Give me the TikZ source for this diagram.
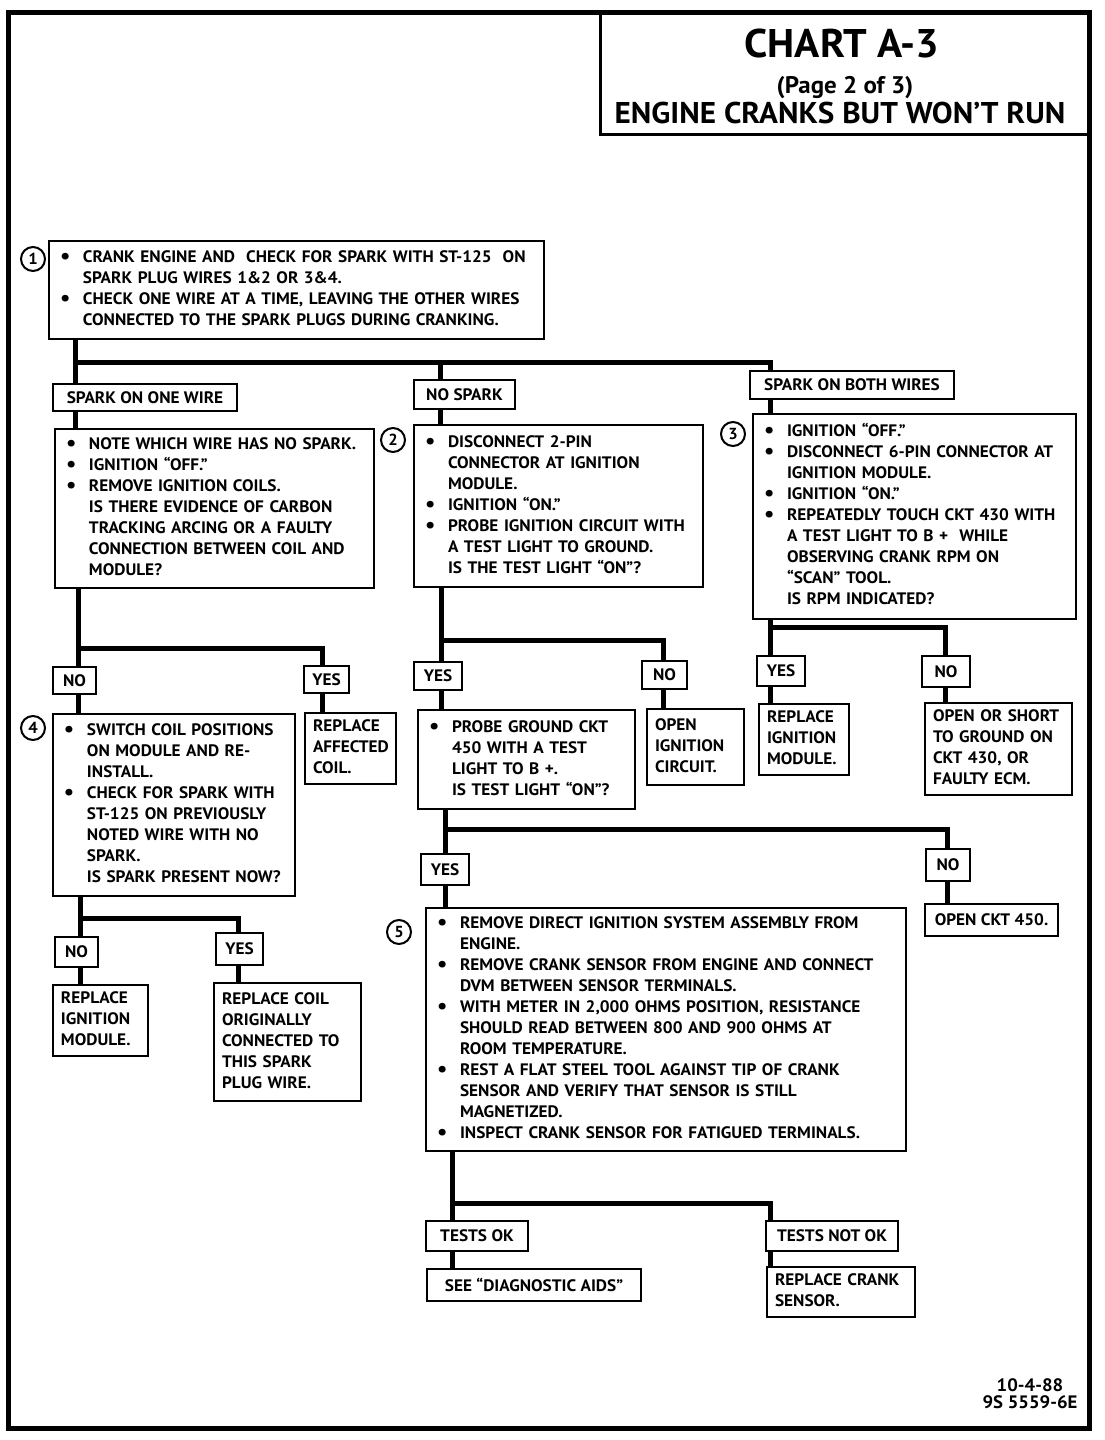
\documentclass[tikz,border=0pt]{standalone}
\usepackage{fontspec}
\setmainfont{PT Sans}[FakeStretch=1.04]
\newcommand{\bl}{\makebox[13pt][l]{\hspace{1.5pt}\raisebox{-0.5pt}{\fontsize{11}{10}\selectfont\textbullet}}}
\newcommand{\ind}{\hspace*{13pt}}
\newcommand{\tb}[1]{\begin{tabular}{@{}l@{}}#1\end{tabular}}

\begin{document}
\begin{tikzpicture}[x=0.5pt,y=-0.5pt,
    every node/.style={font=\bfseries\fontsize{8.3}{10.5}\selectfont},
    box/.style={draw,line width=1pt,anchor=north west,inner xsep=4pt,inner ysep=2pt,align=left},
    tag/.style={draw,line width=1pt,anchor=north west,inner sep=0pt},
    num/.style={circle,draw,line width=1pt,minimum size=12pt,inner sep=0pt,font=\bfseries\fontsize{8}{8}\selectfont},
    wire/.style={line width=2.5pt,line join=miter}]
  \useasboundingbox (0,0) rectangle (1104,1440);
  % frame and title
  \draw[line width=2.5pt] (8,12) rectangle (1089,1428);
  \draw[line width=1.5pt] (600,12) |- (1089,134);
  \node[font=\bfseries\fontsize{20}{22}\selectfont] (chart) at (842,43) {CHART A-3};
  \node[font=\bfseries\fontsize{12}{14}\selectfont] (page) at (845,88) {(Page 2 of 3)};
  \node[font=\bfseries\fontsize{15}{17}\selectfont] (title) at (840,113) {ENGINE CRANKS BUT WON’T RUN};

  % step 1
  \node[num] (num1) at (33,259) {1};
  \node[box,text width=239.5pt,minimum height=49pt] (step1) at (48,240) {\tb{%
    \bl CRANK ENGINE AND \ CHECK FOR SPARK WITH ST-125 \ ON\\
    \ind SPARK PLUG WIRES 1\&2 OR 3\&4.\\
    \bl CHECK ONE WIRE AT A TIME, LEAVING THE OTHER WIRES\\
    \ind CONNECTED TO THE SPARK PLUGS DURING CRANKING.}};

  \node[tag,minimum width=92pt,minimum height=13.5pt] (spkone) at (52,383) {SPARK ON ONE WIRE};
  \node[tag,minimum width=50.5pt,minimum height=14.5pt] (nospk) at (413,379) {NO SPARK};
  \node[tag,minimum width=102pt,minimum height=14pt] (spkboth) at (749,370) {SPARK ON BOTH WIRES};

  \node[box,text width=151.5pt,minimum height=79.5pt] (coils) at (54,428) {\tb{%
    \bl NOTE WHICH WIRE HAS NO SPARK.\\
    \bl IGNITION “OFF.”\\
    \bl REMOVE IGNITION COILS.\\
    \ind IS THERE EVIDENCE OF CARBON\\
    \ind TRACKING ARCING OR A FAULTY\\
    \ind CONNECTION BETWEEN COIL AND\\
    \ind MODULE?}};

  % step 2
  \node[num] (num2) at (393,440) {2};
  \node[box,text width=136.5pt,minimum height=81pt] (step2) at (413,424) {\tb{%
    \bl DISCONNECT 2-PIN\\
    \ind CONNECTOR AT IGNITION\\
    \ind MODULE.\\
    \bl IGNITION “ON.”\\
    \bl PROBE IGNITION CIRCUIT WITH\\
    \ind A TEST LIGHT TO GROUND.\\
    \ind IS THE TEST LIGHT “ON”?}};

  % step 3
  \node[num] (num3) at (733,434) {3};
  \node[box,text width=153.5pt,minimum height=102.5pt] (step3) at (752,413) {\tb{%
    \bl IGNITION “OFF.”\\
    \bl DISCONNECT 6-PIN CONNECTOR AT\\
    \ind IGNITION MODULE.\\
    \bl IGNITION “ON.”\\
    \bl REPEATEDLY TOUCH CKT 430 WITH\\
    \ind A TEST LIGHT TO B + \ WHILE\\
    \ind OBSERVING CRANK RPM ON\\
    \ind “SCAN” TOOL.\\
    \ind IS RPM INDICATED?}};

  \node[tag,minimum width=21.5pt,minimum height=13.5pt] (noA) at (52,666) {NO};
  \node[tag,minimum width=22.5pt,minimum height=13.5pt] (yesA) at (303,665) {YES};
  \node[tag,minimum width=24pt,minimum height=14pt] (yesB) at (413,661) {YES};
  \node[tag,minimum width=22.5pt,minimum height=14pt] (noB) at (641,660) {NO};
  \node[tag,minimum width=24pt,minimum height=15pt] (yesC) at (756,655) {YES};
  \node[tag,minimum width=24pt,minimum height=15.5pt] (noC) at (921,655) {NO};

  % step 4
  \node[num] (num4) at (33,728) {4};
  \node[box,text width=113pt,minimum height=91pt] (step4) at (52,713) {\tb{%
    \bl SWITCH COIL POSITIONS\\
    \ind ON MODULE AND RE-\\
    \ind INSTALL.\\
    \bl CHECK FOR SPARK WITH\\
    \ind ST-125 ON PREVIOUSLY\\
    \ind NOTED WIRE WITH NO\\
    \ind SPARK.\\
    \ind IS SPARK PRESENT NOW?}};
  \node[box,text width=37.5pt,minimum height=35pt] (repcoil) at (304,712) {\tb{REPLACE\\AFFECTED\\COIL.}};
  \node[box,text width=100.5pt,minimum height=49.5pt] (gndckt) at (417,709) {\tb{%
    \bl PROBE GROUND CKT\\
    \ind 450 WITH A TEST\\
    \ind LIGHT TO B +.\\
    \ind IS TEST LIGHT “ON”?}};
  \node[box,text width=40.5pt,minimum height=38pt] (openign) at (646,708) {\tb{OPEN\\IGNITION\\CIRCUIT.}};
  \node[box,text width=37pt,minimum height=35pt] (repmodA) at (758,703) {\tb{REPLACE\\IGNITION\\MODULE.}};
  \node[box,text width=65.5pt,minimum height=45pt] (openshort) at (924,702) {\tb{OPEN OR SHORT\\TO GROUND ON\\CKT 430, OR\\FAULTY ECM.}};

  \node[tag,minimum width=24pt,minimum height=15.5pt] (yesD) at (420,853) {YES};
  \node[tag,minimum width=22pt,minimum height=16pt] (noD) at (925,848) {NO};
  \node[tag,minimum width=66.5pt,minimum height=16pt] (open450) at (924,903) {OPEN CKT 450.};

  % step 5
  \node[num] (num5) at (399,932) {5};
  \node[box,text width=232pt,minimum height=121.5pt] (step5) at (425,907) {\tb{%
    \bl REMOVE DIRECT IGNITION SYSTEM ASSEMBLY FROM\\
    \ind ENGINE.\\
    \bl REMOVE CRANK SENSOR FROM ENGINE AND CONNECT\\
    \ind DVM BETWEEN SENSOR TERMINALS.\\
    \bl WITH METER IN 2,000 OHMS POSITION, RESISTANCE\\
    \ind SHOULD READ BETWEEN 800 AND 900 OHMS AT\\
    \ind ROOM TEMPERATURE.\\
    \bl REST A FLAT STEEL TOOL AGAINST TIP OF CRANK\\
    \ind SENSOR AND VERIFY THAT SENSOR IS STILL\\
    \ind MAGNETIZED.\\
    \bl INSPECT CRANK SENSOR FOR FATIGUED TERMINALS.}};

  \node[tag,minimum width=21.5pt,minimum height=15pt] (noE) at (54,936) {NO};
  \node[tag,minimum width=23.5pt,minimum height=16pt] (yesE) at (215,932) {YES};
  \node[box,text width=39.5pt,minimum height=34.5pt] (repmodB) at (52,984) {\tb{REPLACE\\IGNITION\\MODULE.}};
  \node[box,text width=65.5pt,minimum height=59pt] (repcoilB) at (213,982) {\tb{REPLACE COIL\\ORIGINALLY\\CONNECTED TO\\THIS SPARK\\PLUG WIRE.}};

  \node[tag,minimum width=51pt,minimum height=15pt] (testok) at (425,1220) {TESTS OK};
  \node[tag,minimum width=66pt,minimum height=15pt] (testnok) at (765,1220) {TESTS NOT OK};
  \node[tag,minimum width=107pt,minimum height=16pt] (diag) at (426,1268) {SEE “DIAGNOSTIC AIDS”};
  \node[box,text width=66pt,minimum height=25pt] (repsensor) at (766,1266) {\tb{REPLACE CRANK\\SENSOR.}};

  \node[align=center,font=\bfseries\fontsize{9}{8.5}\selectfont] (date) at (1030,1394) {10-4-88\\9S 5559-6E};

  % branch points
  \coordinate (j1a) at (75,362);  \coordinate (j1b) at (440,362);  \coordinate (j1c) at (770,362);
  \coordinate (j2a) at (78,648);  \coordinate (j2b) at (322,648);
  \coordinate (j3a) at (441,640); \coordinate (j3b) at (663,640);
  \coordinate (j4a) at (770,627); \coordinate (j4b) at (945,627);
  \coordinate (j5a) at (445,829); \coordinate (j5b) at (947,829);
  \coordinate (j6a) at (80,918);  \coordinate (j6b) at (238,918);
  \coordinate (j7a) at (452,1203); \coordinate (j7b) at (770,1203);

  % connectors
  \draw[wire] (step1.south -| j1a) -- (spkone.north -| j1a);
  \draw[wire] (j1a) -- (j1c) -- (spkboth.north -| j1c);
  \draw[wire] (j1b) -- (nospk.north -| j1b);
  \draw[wire] (spkone.south -| j1a) -- (coils.north -| j1a);
  \draw[wire] (nospk.south -| j1b) -- (step2.north -| j1b);
  \draw[wire] (spkboth.south -| j1c) -- (step3.north -| j1c);
  %
  \draw[wire] (coils.south -| j2a) -- (noA.north -| j2a);
  \draw[wire] (j2a) -- (j2b) -- (yesA.north -| j2b);
  \draw[wire] (noA.south -| j2a) -- (step4.north -| j2a);
  \draw[wire] (yesA.south -| j2b) -- (repcoil.north -| j2b);
  %
  \draw[wire] (step2.south -| j3a) -- (yesB.north -| j3a);
  \draw[wire] (j3a) -- (j3b) -- (noB.north -| j3b);
  \draw[wire] (yesB.south -| j3a) -- (gndckt.north -| j3a);
  \draw[wire] (noB.south -| j3b) -- (openign.north -| j3b);
  %
  \draw[wire] (step3.south -| j4a) -- (yesC.north -| j4a);
  \draw[wire] (j4a) -- (j4b) -- (noC.north -| j4b);
  \draw[wire] (yesC.south -| j4a) -- (repmodA.north -| j4a);
  \draw[wire] (noC.south -| j4b) -- (openshort.north -| j4b);
  %
  \draw[wire] (gndckt.south -| j5a) -- (yesD.north -| j5a);
  \draw[wire] (j5a) -- (j5b) -- (noD.north -| j5b);
  \draw[wire] (yesD.south -| j5a) -- (step5.north -| j5a);
  \draw[wire] (noD.south -| j5b) -- (open450.north -| j5b);
  %
  \draw[wire] (step4.south -| j6a) -- (noE.north -| j6a);
  \draw[wire] (j6a) -- (j6b) -- (yesE.north -| j6b);
  \draw[wire] (noE.south -| j6a) -- (repmodB.north -| j6a);
  \draw[wire] (yesE.south -| j6b) -- (repcoilB.north -| j6b);
  %
  \draw[wire] (step5.south -| j7a) -- (testok.north -| j7a);
  \draw[wire] (j7a) -- (j7b) -- (testnok.north -| j7b);
  \draw[wire] (testok.south -| j7a) -- (diag.north -| j7a);
  \draw[wire] (testnok.south -| j7b) -- (repsensor.north -| j7b);
\end{tikzpicture}
\end{document}
